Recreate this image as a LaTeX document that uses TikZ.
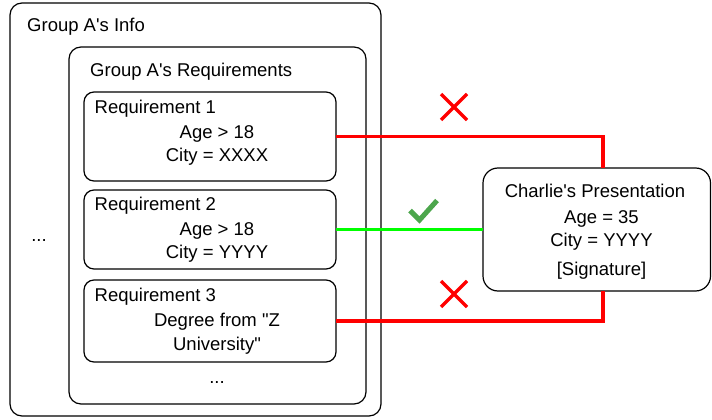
\documentclass[tikz,border=0pt]{standalone}
\usepackage{fontspec}
\setmainfont{Liberation Sans}
\begin{document}
\begin{tikzpicture}[x=1pt,y=-1pt,
	box/.style={draw,line width=1.2pt,inner sep=0pt,outer sep=0pt,rounded corners=10pt},
	txt/.style={inner sep=0pt,anchor=base west,font=\fontsize{18.5}{22}\selectfont},
	mid/.style={txt,anchor=base,align=center},
	nope/.style={draw=red,line width=3.8pt},
	yes/.style={draw=green,line width=3.8pt}]
	\useasboundingbox (0,0) rectangle (712,420);
	% boxes
	\node[box,rounded corners=12pt,minimum width=371pt,minimum height=413pt] (info) at (195.5,209.5) {};
	\node[box,rounded corners=12pt,minimum width=297pt,minimum height=357pt] (reqs) at (217.5,225.5) {};
	\node[box,minimum width=252pt,minimum height=89pt] (r1) at (210,136.5) {};
	\node[box,minimum width=252pt,minimum height=79pt] (r2) at (210,229.5) {};
	\node[box,minimum width=252pt,minimum height=82pt] (r3) at (210,321) {};
	\node[box,rounded corners=15pt,minimum width=227.5pt,minimum height=123pt] (ch) at (596.75,229.5) {};
	% texts
	\node[txt] (infot) at (27,31.5) {Group A\textquotesingle s Info};
	\node[txt] (reqst) at (90,76.5) {Group A\textquotesingle s Requirements};
	\node[mid] (dotsl) at (39,241) {...};
	\node[mid] (dotsr) at (217,383) {...};
	\node[txt] (r1t) at (94.5,113) {Requirement 1};
	\node[mid] (r1a) at (217,138) {Age > 18};
	\node[mid] (r1b) at (217,161.5) {City = XXXX};
	\node[txt] (r2t) at (94.5,210.5) {Requirement 2};
	\node[mid] (r2a) at (217,235) {Age > 18};
	\node[mid] (r2b) at (217,258) {City = YYYY};
	\node[txt] (r3t) at (94.5,301.5) {Requirement 3};
	\node[mid] (r3a) at (217,326.5) {Degree from \textquotedbl Z};
	\node[mid] (r3b) at (217,350) {University\textquotedbl};
	\node[mid] (cht) at (595,197) {Charlie\textquotesingle s Presentation};
	\node[mid] (cha) at (601.5,223) {Age = 35};
	\node[mid] (chb) at (601.5,246) {City = YYYY};
	\node[mid] (chc) at (601.5,275) {[Signature]};
	% links
	\draw[nope] (r1.east) -| ([xshift=6.5pt]ch.north);
	\draw[yes] (r2.east) -- (ch.west);
	\draw[nope] (r3.east) -| ([xshift=6.5pt]ch.south);
	% marks
	\foreach \y in {107,294}{
		\draw[red,line width=3.5pt] (441,\y-13)--(467,\y+13) (441,\y+13)--(467,\y-13);
	}
	\draw[color={rgb,255:red,76;green,166;blue,76},line width=5pt] (410,210.5)--(419.5,220)--(437,200.5);
\end{tikzpicture}
\end{document}
